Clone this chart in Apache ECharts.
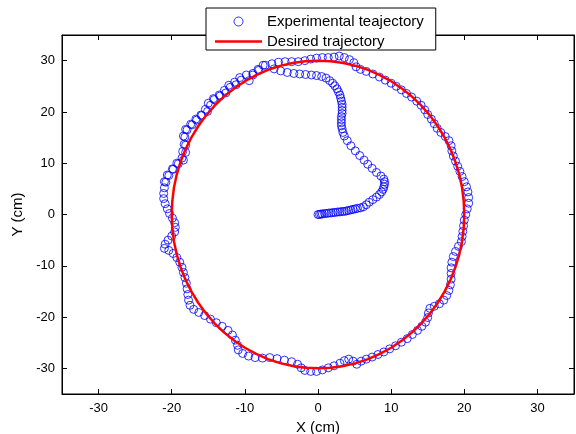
<!DOCTYPE html>
<html>
<head>
<meta charset="utf-8">
<script src="https://cdn.jsdelivr.net/npm/echarts@6/dist/echarts.min.js"></script>
<style>
  html, body { margin: 0; padding: 0; background: #fff; }
  #chart { width: 576px; height: 434px; }
</style>
</head>
<body>
<div id="chart"></div>
<script>
// Tick positions shared by both axes (cm)
const xTicks = [-30, -20, -10, 0, 10, 20, 30];
const yTicks = [-30, -20, -10, 0, 10, 20, 30];

// Measured robot path: spiral out from the origin, then loops the ellipse (cm)
const expX = [
  // start-up run from the origin
  0.0, 0.2, 0.4, 0.6, 0.9, 1.2, 1.5, 1.8, 2.1, 2.4, 2.7, 3.0, 3.3, 3.6, 3.9, 4.2, 4.5, 4.8, 5.1, 5.4,
  5.8, 6.2, 6.6, 7.0, 7.5, 8.0, 8.4, 8.7, 8.9, 9.0, 9.1, 9.1, 9.0, 8.6, 8.0, 7.4, 6.8, 6.3, 5.7, 5.1,
  4.5, 4.0, 3.6, 3.4, 3.3, 3.2, 3.2, 3.2, 3.2, 3.3, 3.3, 3.3, 3.3, 3.2, 3.1, 3.0, 2.8, 2.6, 2.3, 2.0,
  1.6, 1.1, 0.5, -0.2, -0.9, -1.7, -2.5, -3.3, -4.2, -5.1, -6.0,
  // upper-left arc, first pass
  -7.5, -8.2, -8.9, -9.4, -10.5, -11.4, -12.2, -12.8, -13.4, -14.2, -15.0, -15.4, -15.9, -16.6, -17.2,
  -17.9, -18.2, -18.3, -18.5, -18.6, -19.1, -19.8, -20.4, -20.8,
  // left side
  -21.0, -21.1, -21.1, -20.9, -20.6, -20.3, -19.9, -19.6, -19.5, -19.6, -20.0, -20.5, -20.9, -21.0,
  -20.4, -19.8, -19.3, -18.9, -18.6,
  // lower-left arc and bottom
  -18.4, -18.2, -18.0, -17.9, -17.8, -17.7, -17.5, -17.0, -16.3, -15.5, -14.7, -13.9, -13.1, -12.3,
  -11.7, -11.3, -11.0, -10.9, -10.3, -9.5, -8.6, -7.6, -6.6, -5.6, -4.6, -3.6, -2.8, -2.3, -1.8, -1.0,
  -0.2, 0.6, 1.4, 2.2, 3.0, 3.6, 4.2, 4.8, 5.3, 5.9, 6.6, 7.4, 8.2, 9.0, 9.8, 10.6, 11.4, 12.2, 12.9,
  // lower-right arc and right side
  13.6, 14.2, 14.7, 15.0, 15.1, 15.3, 15.9, 16.6, 17.2, 17.6, 17.9, 18.1, 18.2, 18.2, 18.2, 18.3,
  18.5, 18.8, 19.2, 19.6, 19.7, 19.8, 19.9, 20.0, 20.2, 20.4, 20.6, 20.6, 20.5, 20.3, 20.0, 19.7,
  // upper-right arc and top
  19.4, 19.1, 18.8, 18.5, 18.3, 18.2, 17.9, 17.4, 16.8, 16.3, 15.9, 15.5, 15.0, 14.6, 14.1, 13.5,
  12.8, 12.1, 11.4, 10.7, 10.0, 9.2, 8.4, 7.5, 6.6, 5.8, 5.2, 4.9, 4.3, 3.6, 2.9, 2.2, 1.4, 0.6,
  -0.2, -1.0, -1.8, -2.7, -3.6, -4.5, -5.4, -6.3, -7.2,
  // upper-left arc, second pass
  -8.1, -8.9, -9.8, -10.7, -11.2, -12.0, -12.6, -13.5, -14.3, -14.7, -15.1, -16.0, -16.7, -17.4,
  -18.1, -18.4, -18.1, -18.1, -18.4, -19.3, -19.9, -20.6, -21.0
];
const expY = [
  0.0, 0.0, 0.1, 0.1, 0.2, 0.2, 0.3, 0.3, 0.4, 0.4, 0.5, 0.5, 0.6, 0.6, 0.7, 0.8, 0.9, 1.0, 1.1, 1.2,
  1.3, 1.5, 1.9, 2.4, 2.9, 3.4, 3.9, 4.4, 4.9, 5.4, 5.9, 6.4, 6.9, 7.5, 8.2, 9.0, 9.8, 10.6, 11.5, 12.4,
  13.4, 14.4, 15.3, 16.0, 16.7, 17.3, 17.9, 18.5, 19.1, 19.7, 20.3, 20.9, 21.5, 22.1, 22.7, 23.3, 23.9, 24.5, 25.1, 25.6,
  26.1, 26.6, 26.9, 27.1, 27.2, 27.3, 27.4, 27.5, 27.7, 28.0, 28.4,
  29.1, 28.3, 27.5, 26.1, 26.2, 25.8, 25.2, 24.2, 23.1, 22.4, 21.7, 20.5, 19.3, 18.4, 17.5,
  16.5, 15.1, 13.7, 12.3, 11.0, 9.9, 8.8, 7.6, 6.3,
  5.2, 4.1, 3.1, 2.1, 1.1, 0.2, -0.7, -1.6, -2.5, -3.4, -4.2, -5.0, -5.8, -6.6,
  -7.0, -7.6, -8.4, -9.3, -10.3,
  -11.3, -12.3, -13.4, -14.5, -15.6, -16.7, -17.7, -18.5, -19.1, -19.7, -20.4, -21.1, -21.8, -22.6,
  -23.5, -24.5, -25.5, -26.4, -27.1, -27.6, -27.9, -28.0, -27.9, -28.1, -28.4, -28.7, -29.2, -29.9, -30.4, -30.6,
  -30.6, -30.3, -29.9, -29.5, -29.0, -28.5, -28.2, -28.6, -29.2, -28.6, -28.2, -27.8, -27.3, -26.8, -26.2, -25.6, -24.9, -24.2, -23.4,
  -22.6, -21.8, -21.0, -20.1, -19.2, -18.3, -17.9, -17.4, -16.7, -15.8, -14.8, -13.7, -12.6, -11.5, -10.4, -9.3,
  -8.2, -7.2, -6.2, -5.3, -4.3, -3.3, -2.2, -1.1, 0.0, 1.1, 2.2, 3.3, 4.4, 5.4, 6.4, 7.4,
  8.4, 9.4, 10.4, 11.4, 12.4, 13.4, 14.4, 15.2, 16.0, 16.8, 17.7, 18.6, 19.5, 20.4, 21.3, 22.1,
  22.9, 23.6, 24.3, 25.0, 25.6, 26.2, 26.8, 27.4, 27.9, 28.3, 28.8, 29.6, 30.2, 30.6, 30.9, 30.7, 30.6, 30.6,
  30.5, 30.3, 30.0, 29.8, 29.8, 29.8, 29.7, 29.4, 29.1,
  28.1, 27.2, 27.2, 26.7, 25.3, 24.8, 23.7, 23.3, 22.6, 21.3, 20.1, 19.4, 18.6, 17.6,
  16.6, 15.3, 13.5, 12.1, 10.6, 10.0, 8.9, 7.7, 6.4
];

// Reference ellipse (20 cm by 30 cm semi-axes), sampled every 5 degrees
const desiredX = [
  20.00, 19.92, 19.70, 19.32, 18.79, 18.13, 17.32, 16.38, 15.32, 14.14, 12.86, 11.47, 10.00, 8.45, 6.84, 5.18, 3.47, 1.74, 0.00,
  -1.74, -3.47, -5.18, -6.84, -8.45, -10.00, -11.47, -12.86, -14.14, -15.32, -16.38, -17.32, -18.13, -18.79, -19.32, -19.70, -19.92, -20.00,
  -19.92, -19.70, -19.32, -18.79, -18.13, -17.32, -16.38, -15.32, -14.14, -12.86, -11.47, -10.00, -8.45, -6.84, -5.18, -3.47, -1.74, 0.00,
  1.74, 3.47, 5.18, 6.84, 8.45, 10.00, 11.47, 12.86, 14.14, 15.32, 16.38, 17.32, 18.13, 18.79, 19.32, 19.70, 19.92, 20.00
];
const desiredY = [
  0.00, 2.61, 5.21, 7.76, 10.26, 12.68, 15.00, 17.21, 19.28, 21.21, 22.98, 24.57, 25.98, 27.19, 28.19, 28.98, 29.54, 29.89, 30.00,
  29.89, 29.54, 28.98, 28.19, 27.19, 25.98, 24.57, 22.98, 21.21, 19.28, 17.21, 15.00, 12.68, 10.26, 7.76, 5.21, 2.61, 0.00,
  -2.61, -5.21, -7.76, -10.26, -12.68, -15.00, -17.21, -19.28, -21.21, -22.98, -24.57, -25.98, -27.19, -28.19, -28.98, -29.54, -29.89, -30.00,
  -29.89, -29.54, -28.98, -28.19, -27.19, -25.98, -24.57, -22.98, -21.21, -19.28, -17.21, -15.00, -12.68, -10.26, -7.76, -5.21, -2.61, 0.00
];

const FONT = 'Liberation Sans, Arial, Helvetica, sans-serif';
const expData = expX.map((x, i) => [x, expY[i]]);
const desiredData = desiredX.map((x, i) => [x, desiredY[i]]);

function valueAxis(ticks, opts) {
  return Object.assign({
    type: 'value',
    min: -35,
    max: 35,
    splitLine: { show: false },
    axisLine: { show: true, onZero: false, lineStyle: { color: '#000', width: 1 } },
    axisTick: { show: true, inside: true, length: 5, customValues: ticks, lineStyle: { color: '#000' } },
    axisLabel: { show: true, customValues: ticks, color: '#000', fontSize: 13, fontFamily: FONT, margin: 7 }
  }, opts);
}

const chart = echarts.init(document.getElementById('chart'), null, { renderer: 'canvas' });
chart.setOption({
  animation: false,
  backgroundColor: '#fff',
  grid: {
    left: 62, right: 2, top: 35, bottom: 40,
    containLabel: false, outerBoundsMode: 'none',
    show: true, borderColor: '#000', borderWidth: 1, backgroundColor: '#fff'
  },
  xAxis: [
    valueAxis(xTicks, {
      position: 'bottom', name: 'X (cm)', nameLocation: 'middle', nameGap: 20,
      axisLabel: { show: true, customValues: xTicks, color: '#000', fontSize: 13, fontFamily: FONT, margin: 8 },
      nameTextStyle: { color: '#000', fontSize: 15, fontFamily: FONT }
    }),
    valueAxis(xTicks, { position: 'top', axisLabel: { show: false } })
  ],
  yAxis: [
    valueAxis(yTicks, {
      position: 'left', name: 'Y (cm)', nameLocation: 'middle', nameGap: 35,
      nameTextStyle: { color: '#000', fontSize: 15, fontFamily: FONT }
    }),
    valueAxis(yTicks, { position: 'right', axisLabel: { show: false } })
  ],
  legend: {
    orient: 'vertical',
    left: 206,
    top: 8,
    padding: [6, 12, 1, 9],
    itemGap: 5,
    itemWidth: 47,
    itemHeight: 9,
    backgroundColor: '#fff',
    borderColor: '#000',
    borderWidth: 1,
    borderRadius: 0,
    z: 10,
    textStyle: { color: '#000', fontSize: 15, fontFamily: FONT },
    data: [
      { name: 'Experimental teajectory', icon: 'circle',
        itemStyle: { color: 'transparent', borderColor: '#0000ff', borderWidth: 1 } },
      { name: 'Desired trajectory', icon: 'path://M0,0H470V25H0Z',
        itemStyle: { color: '#ff0000', borderWidth: 0 } }
    ]
  },
  series: [
    {
      name: 'Experimental teajectory',
      type: 'scatter',
      xAxisIndex: 0,
      yAxisIndex: 0,
      data: expData,
      symbol: 'circle',
      symbolSize: 8,
      itemStyle: { color: 'transparent', borderColor: '#0000ff', borderWidth: 1 },
      z: 2
    },
    {
      name: 'Desired trajectory',
      type: 'line',
      xAxisIndex: 0,
      yAxisIndex: 0,
      data: desiredData,
      symbol: 'none',
      smooth: false,
      lineStyle: { color: '#ff0000', width: 2.5 },
      itemStyle: { color: '#ff0000' },
      z: 3
    }
  ]
});
</script>
</body>
</html>
